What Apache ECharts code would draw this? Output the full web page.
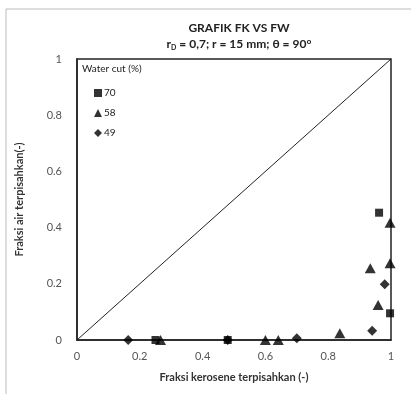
<!DOCTYPE html>
<html>
<head>
<meta charset="utf-8">
<script src="https://cdn.jsdelivr.net/npm/echarts@6/dist/echarts.min.js"></script>
<style>
  html, body { margin: 0; padding: 0; background: #fff; }
  #chart { width: 411px; height: 394px; }
</style>
</head>
<body>
<div id="chart"></div>
<script>
// Water cut 70 %
const wc70 = [[0.25, 0], [0.48, 0], [0.962, 0.453], [0.997, 0.095]];
// Water cut 58 %
const wc58 = [[0.266, 0], [0.60, 0], [0.641, 0], [0.837, 0.024], [0.934, 0.255],
              [0.959, 0.125], [0.997, 0.273], [0.997, 0.417]];
// Water cut 49 %
const wc49 = [[0.163, 0], [0.48, 0], [0.70, 0.006], [0.94, 0.033], [0.98, 0.198]];
const diagonal = [[0, 0], [1, 1]];
const seriesNames = ['70', '58', '49'];

const chart = echarts.init(document.getElementById('chart'));
const font = 'Lato, "Open Sans", sans-serif';

chart.setOption({
    backgroundColor: '#fff',
    animation: false,
    textStyle: { fontFamily: font },
    title: {
        text: 'GRAFIK FK VS FW',
        subtext: '{n|r}{s|D}{n| = 0,7; r = 15 mm; θ = 90°}',
        left: 234,
        textAlign: 'center',
        top: 17,
        itemGap: 4,
        textStyle: { fontSize: 12, fontWeight: 'bold', color: '#222' },
        subtextStyle: {
            rich: {
                n: { fontSize: 12, fontWeight: 'bold', color: '#222', fontFamily: font },
                s: { fontSize: 7, fontWeight: 'bold', color: '#222', fontFamily: font, verticalAlign: 'bottom', padding: [6, 0, 0, 0] }
            }
        }
    },
    graphic: [
        { type: 'line', shape: { x1: 6, y1: 9, x2: 411, y2: 9 }, style: { stroke: '#bbb', lineWidth: 1 } },
        { type: 'line', shape: { x1: 6, y1: 9, x2: 6, y2: 394 }, style: { stroke: '#bbb', lineWidth: 1 } },
        { type: 'text', left: 82, top: 64, style: { text: 'Water cut (%)', fontSize: 10, fill: '#222', fontFamily: font } }
    ],
    legend: {
        data: seriesNames,
        orient: 'vertical',
        left: 89,
        top: 83,
        itemGap: 10,
        itemWidth: 8,
        itemHeight: 8,
        textStyle: { fontSize: 10, color: '#222', padding: [0, 0, 0, -3] }
    },
    grid: { left: 77, right: 20, top: 59, bottom: 54, show: true, borderColor: '#222', borderWidth: 1.5 },
    xAxis: {
        type: 'value', min: 0, max: 1, interval: 0.2,
        name: 'Fraksi kerosene terpisahkan (-)',
        nameLocation: 'middle', nameGap: 32,
        nameTextStyle: { fontSize: 11, fontWeight: 'bold', color: '#333' },
        axisLine: { show: true, lineStyle: { color: '#222', width: 1.5 } },
        axisTick: { show: false },
        splitLine: { show: false },
        axisLabel: { fontSize: 11, color: '#555', margin: 11 }
    },
    yAxis: {
        type: 'value', min: 0, max: 1, interval: 0.2,
        name: 'Fraksi air terpisahkan(-)',
        nameLocation: 'middle', nameGap: 52,
        nameTextStyle: { fontSize: 11, fontWeight: 'bold', color: '#333' },
        axisLine: { show: true, lineStyle: { color: '#222', width: 1.5 } },
        axisTick: { show: false },
        splitLine: { show: false },
        axisLabel: { fontSize: 11, color: '#555', margin: 15 }
    },
    series: [
        {
            name: 'diag', type: 'line', data: diagonal, symbol: 'none',
            lineStyle: { color: '#222', width: 1 }, silent: true, z: 1
        },
        { name: seriesNames[0], type: 'scatter', data: wc70, symbol: 'rect', symbolSize: 8, itemStyle: { color: '#000' }, z: 3 },
        { name: seriesNames[1], type: 'scatter', data: wc58, symbol: 'triangle', symbolSize: [11, 10], itemStyle: { color: '#000' }, z: 3 },
        { name: seriesNames[2], type: 'scatter', data: wc49, symbol: 'diamond', symbolSize: [10, 10], itemStyle: { color: '#000' }, z: 4 }
    ]
});
</script>
</body>
</html>
